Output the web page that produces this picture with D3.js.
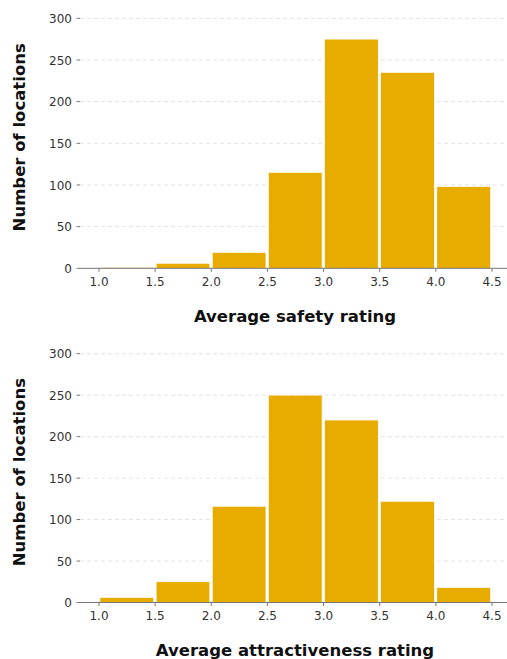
<!DOCTYPE html>
<html><head><meta charset="utf-8">
<script src="https://cdn.jsdelivr.net/npm/d3@7"></script>
<style>body{margin:0;background:#fff;} svg{display:block;font-family:"DejaVu Sans",sans-serif;}</style>
</head><body>
<svg id="c" width="507" height="659"></svg>
<script>
const binEdges = [1.0, 1.5, 2.0, 2.5, 3.0, 3.5, 4.0, 4.5];
const safetyCounts = [1, 6, 19, 115, 275, 235, 98];
const attractCounts = [6, 25, 116, 250, 220, 122, 18];
const xTicks = [1.0, 1.5, 2.0, 2.5, 3.0, 3.5, 4.0, 4.5];
const yTicks = [0, 50, 100, 150, 200, 250, 300];
const panels = [
  {title: "Average safety rating", counts: safetyCounts, top: 18.3, bottom: 268.3, titleY: 321.5},
  {title: "Average attractiveness rating", counts: attractCounts, top: 353.7, bottom: 602.5, titleY: 655.5}
];
const svg = d3.select("#c");
const x = d3.scaleLinear().domain([1.0, 4.5]).range([99, 492]);
const axisLeft = 80, axisRight = 507;
const barColor = "#E8AC00";

panels.forEach(p => {
  const y = d3.scaleLinear().domain([0, 300]).range([p.bottom, p.top]);
  const g = svg.append("g");
  // grid
  g.selectAll("line.grid").data(yTicks.filter(d => d > 0)).join("line")
    .attr("x1", axisLeft).attr("x2", axisRight)
    .attr("y1", d => y(d)).attr("y2", d => y(d))
    .attr("stroke", "#e3e3e3").attr("stroke-width", 1).attr("stroke-dasharray", "4,3");
  // bars
  const bins = p.counts.map((c, i) => ({lo: binEdges[i], hi: binEdges[i + 1], c}));
  g.selectAll("rect").data(bins).join("rect")
    .attr("x", d => x(d.lo) + 1)
    .attr("width", d => x(d.hi) - x(d.lo) - 2.5)
    .attr("y", d => y(d.c))
    .attr("height", d => y(0) - y(d.c))
    .attr("fill", barColor)
    .attr("stroke", "#fff").attr("stroke-width", 0.6);
  // x axis line
  g.append("line").attr("x1", axisLeft).attr("x2", axisRight)
    .attr("y1", y(0)).attr("y2", y(0)).attr("stroke", "#777").attr("stroke-width", 1);
  // x ticks
  const xt = g.selectAll("g.xt").data(xTicks).join("g")
    .attr("transform", d => `translate(${x(d)},${y(0)})`);
  xt.append("line").attr("y1", 0).attr("y2", 3.5).attr("stroke", "#777");
  xt.append("text").attr("y", 17.5).attr("text-anchor", "middle")
    .attr("font-size", 12).attr("fill", "#333").text(d => d.toFixed(1));
  // y ticks
  const yt = g.selectAll("g.yt").data(yTicks).join("g")
    .attr("transform", d => `translate(${axisLeft},${y(d)})`);
  yt.append("line").attr("x1", -3.5).attr("x2", 0).attr("stroke", "#777");
  yt.append("text").attr("x", -8).attr("dy", "0.38em").attr("text-anchor", "end")
    .attr("font-size", 12).attr("fill", "#333").text(d => d);
  // titles
  g.append("text").attr("x", 295).attr("y", p.titleY)
    .attr("text-anchor", "middle").attr("font-size", 16.5).attr("font-weight", "bold")
    .attr("fill", "#111").text(p.title);
  g.append("text")
    .attr("transform", `translate(25,${(p.top + p.bottom) / 2 - 6}) rotate(-90)`)
    .attr("text-anchor", "middle").attr("font-size", 16.5).attr("font-weight", "bold")
    .attr("fill", "#111").text("Number of locations");
});
</script>
</body></html>
